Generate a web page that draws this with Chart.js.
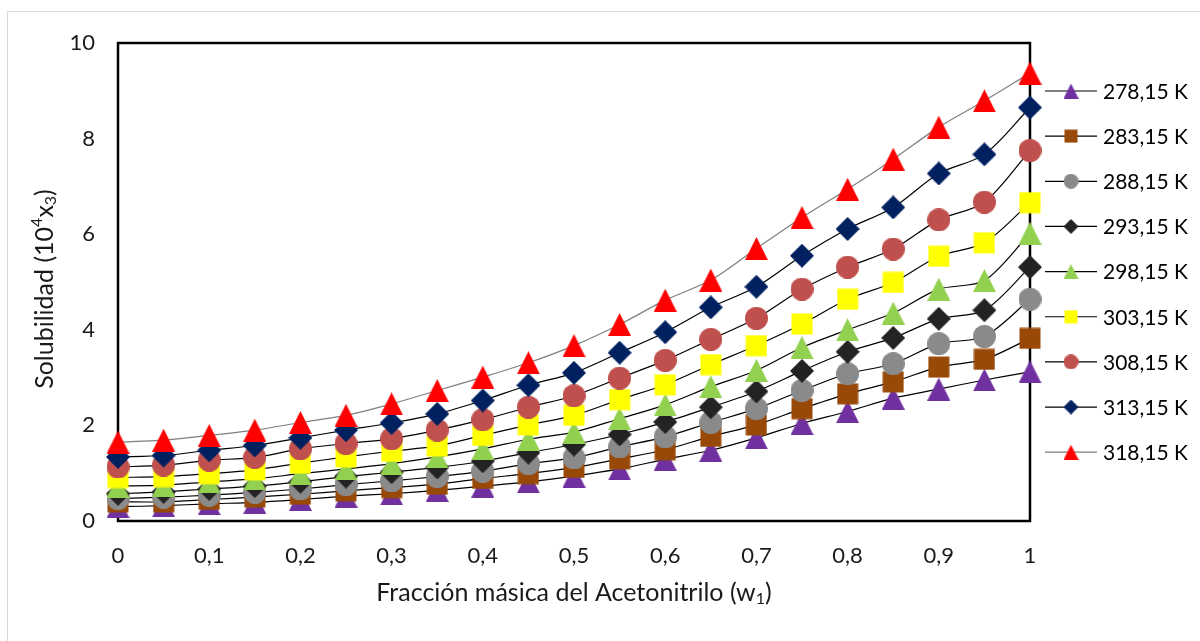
<!DOCTYPE html>
<html lang="es">
<head>
<meta charset="utf-8">
<title>Solubilidad vs fracción másica del acetonitrilo</title>
<script src="https://cdn.jsdelivr.net/npm/chart.js@4.4.1/dist/chart.umd.min.js"></script>
<style>
  html, body { margin: 0; padding: 0; background: #fff; overflow: hidden; }
  #wrap { position: relative; width: 1200px; height: 641px; }
  #frame { position: absolute; left: 7px; top: 11px; width: 1300px; height: 700px;
           border-top: 1px solid #dedad2; border-left: 1px solid #dedad2; }
  canvas { position: absolute; left: 0; top: 0; }
</style>
</head>
<body>
<div id="wrap">
  <div id="frame"></div>
  <canvas id="solChart" width="1200" height="641"></canvas>
</div>
<script>
const FONT = 'Lato, "Open Sans", sans-serif';

// mass fraction of acetonitrile (x axis)
const w1 = [0, 0.05, 0.1, 0.15, 0.2, 0.25, 0.3, 0.35, 0.4, 0.45, 0.5,
            0.55, 0.6, 0.65, 0.7, 0.75, 0.8, 0.85, 0.9, 0.95, 1];

const temperatures = ['278,15 K', '283,15 K', '288,15 K', '293,15 K', '298,15 K',
                      '303,15 K', '308,15 K', '313,15 K', '318,15 K'];

// solubility 10^4 x3 for each temperature
const sol_278 = [0.30, 0.32, 0.36, 0.39, 0.45, 0.52, 0.57, 0.64, 0.73, 0.82, 0.94,
                 1.09, 1.29, 1.48, 1.74, 2.04, 2.29, 2.57, 2.76, 2.95, 3.12];
const sol_283 = [0.40, 0.40, 0.45, 0.50, 0.56, 0.63, 0.70, 0.77, 0.89, 0.99, 1.12,
                 1.30, 1.49, 1.77, 2.01, 2.35, 2.66, 2.91, 3.22, 3.38, 3.82];
const sol_288 = [0.47, 0.50, 0.54, 0.60, 0.67, 0.76, 0.84, 0.93, 1.04, 1.20, 1.32,
                 1.55, 1.76, 2.06, 2.35, 2.73, 3.08, 3.29, 3.71, 3.86, 4.64];
const sol_293 = [0.57, 0.61, 0.67, 0.73, 0.82, 0.93, 1.02, 1.12, 1.25, 1.43, 1.60,
                 1.81, 2.07, 2.38, 2.71, 3.14, 3.54, 3.83, 4.23, 4.41, 5.31];
const sol_298 = [0.73, 0.75, 0.82, 0.88, 0.99, 1.09, 1.20, 1.34, 1.51, 1.71, 1.86,
                 2.14, 2.43, 2.81, 3.15, 3.63, 4.00, 4.35, 4.85, 5.03, 6.02];
const sol_303 = [0.91, 0.93, 0.99, 1.07, 1.21, 1.34, 1.46, 1.57, 1.79, 2.01, 2.21,
                 2.54, 2.85, 3.27, 3.67, 4.12, 4.64, 4.99, 5.54, 5.82, 6.66];
const sol_308 = [1.13, 1.17, 1.27, 1.33, 1.51, 1.62, 1.72, 1.90, 2.12, 2.38, 2.62,
                 2.99, 3.36, 3.80, 4.24, 4.85, 5.31, 5.69, 6.30, 6.67, 7.75];
const sol_313 = [1.34, 1.37, 1.48, 1.58, 1.74, 1.90, 2.05, 2.24, 2.52, 2.84, 3.10,
                 3.52, 3.95, 4.47, 4.90, 5.55, 6.11, 6.56, 7.27, 7.67, 8.65];
const sol_318 = [1.65, 1.69, 1.79, 1.90, 2.06, 2.21, 2.45, 2.73, 3.01, 3.31, 3.67,
                 4.11, 4.62, 5.04, 5.70, 6.35, 6.94, 7.57, 8.24, 8.79, 9.37];

const series = [sol_278, sol_283, sol_288, sol_293, sol_298, sol_303, sol_308, sol_313, sol_318];
const fill_colors = ['#7030a0', '#984807', '#8a8a8a', '#232323', '#92d050',
                     '#ffff00', '#c0504d', '#002060', '#ff0000'];
const line_colors = ['#000', '#000', '#000', '#000', '#000', '#000', '#000', '#000', '#7f7f7f'];
const shapes = ['triangle', 'square', 'circle', 'diamond', 'triangle',
                'square', 'circle', 'diamond', 'triangle'];

const y_ticks = [0, 2, 4, 6, 8, 10];

/**
 * builds a small canvas with one filled marker, used as pointStyle
 **/
function make_marker(shape, color, size) {
    const c = document.createElement('canvas');
    c.width = size;
    c.height = size;
    const g = c.getContext('2d');
    g.fillStyle = color;
    g.beginPath();
    if (shape === 'triangle') {
        g.moveTo(size / 2, 0);
        g.lineTo(size, size);
        g.lineTo(0, size);
    } else if (shape === 'square') {
        g.rect(0.5, 0.5, size - 1, size - 1);
    } else if (shape === 'circle') {
        g.arc(size / 2, size / 2, size / 2, 0, Math.PI * 2);
    } else {
        g.moveTo(size / 2, 0);
        g.lineTo(size, size / 2);
        g.lineTo(size / 2, size);
        g.lineTo(0, size / 2);
    }
    g.closePath();
    g.fill();
    return c;
}

const marker_size = { triangle: 23, square: 22, circle: 23, diamond: 24 };
const legend_size = { triangle: 15, square: 14, circle: 15, diamond: 15 };

/**
 * draws text with superscript / subscript pieces, centered on (0,0)
 **/
function draw_rich(ctx, parts, size) {
    const small = Math.round(size * 0.64);
    let total = 0;
    parts.forEach(p => {
        ctx.font = (p[1] ? small : size) + 'px ' + FONT;
        p.w = ctx.measureText(p[0]).width;
        total += p.w;
    });
    let x = -total / 2;
    parts.forEach(p => {
        ctx.font = (p[1] ? small : size) + 'px ' + FONT;
        const dy = p[1] === 'sup' ? -size * 0.32 : (p[1] === 'sub' ? size * 0.24 : 0);
        ctx.fillText(p[0], x, dy);
        x += p.w;
    });
}

// black box around the plot area, under the markers
const plotFrame = {
    id: 'plotFrame',
    beforeDatasetsDraw(chart) {
        const a = chart.chartArea;
        const ctx = chart.ctx;
        ctx.save();
        ctx.strokeStyle = '#000';
        ctx.lineWidth = 2.5;
        ctx.strokeRect(a.left, a.top, a.right - a.left, a.bottom - a.top);
        ctx.restore();
    }
};

// axis titles with super/subscripts
const axisTitles = {
    id: 'axisTitles',
    afterDraw(chart) {
        const a = chart.chartArea;
        const ctx = chart.ctx;
        ctx.save();
        ctx.fillStyle = '#1a1a1a';
        ctx.textBaseline = 'middle';
        ctx.textAlign = 'left';
        ctx.translate((a.left + a.right) / 2, 593);
        draw_rich(ctx, [['Fracción másica del Acetonitrilo (w', ''], ['1', 'sub'], [')', '']], 25);
        ctx.restore();

        ctx.save();
        ctx.fillStyle = '#1a1a1a';
        ctx.textBaseline = 'middle';
        ctx.textAlign = 'left';
        ctx.translate(45, 289);
        ctx.rotate(-Math.PI / 2);
        draw_rich(ctx, [['Solubilidad (10', ''], ['4', 'sup'], ['x', ''], ['3', 'sub'], [')', '']], 25);
        ctx.restore();
    }
};

// legend on the right: short line with the marker in the middle
const sideLegend = {
    id: 'sideLegend',
    afterDraw(chart) {
        const ctx = chart.ctx;
        ctx.save();
        ctx.font = '21px ' + FONT;
        ctx.textBaseline = 'middle';
        ctx.textAlign = 'left';
        chart.data.datasets.forEach((ds, i) => {
            const y = 91 + i * 45.15;
            ctx.strokeStyle = ds.borderColor;
            ctx.lineWidth = 1.2;
            ctx.beginPath();
            ctx.moveTo(1045, y);
            ctx.lineTo(1097, y);
            ctx.stroke();
            const m = ds.legendMarker;
            ctx.drawImage(m, 1071 - m.width / 2, y - m.height / 2);
            ctx.fillStyle = '#000';
            ctx.fillText(ds.label, 1103, y + 1);
        });
        ctx.restore();
    }
};

let datasetConfig = [];
for (let i = 0; i < series.length; i++) {
    datasetConfig.push({
        label: temperatures[i],
        data: w1.map((x, j) => ({ x: x, y: series[i][j] })),
        borderColor: line_colors[i],
        borderWidth: 1.2,
        tension: 0.3,
        pointStyle: make_marker(shapes[i], fill_colors[i], marker_size[shapes[i]]),
        legendMarker: make_marker(shapes[i], fill_colors[i], legend_size[shapes[i]]),
        pointRadius: 11,
        clip: false,
        order: series.length - 1 - i
    });
}

const format_tick = v => Number(v.toFixed(1)).toString().replace('.', ',');

const ctx = document.getElementById('solChart').getContext('2d');
const config = {
    type: 'line',
    data: { datasets: datasetConfig },
    options: {
        responsive: false,
        animation: false,
        layout: { padding: { top: 43, right: 170, left: 0, bottom: 0 } },
        plugins: {
            legend: { display: false },
            tooltip: { enabled: false }
        },
        scales: {
            x: {
                type: 'linear',
                min: 0,
                max: 1,
                grid: { display: false, drawTicks: false },
                border: { display: false },
                ticks: {
                    stepSize: 0.1,
                    padding: 22,
                    color: '#1a1a1a',
                    font: { family: FONT, size: 22 },
                    callback: format_tick
                },
                afterFit: s => { s.height = 120; }
            },
            y: {
                min: y_ticks[0],
                max: y_ticks[y_ticks.length - 1],
                grid: { display: false, drawTicks: false },
                border: { display: false },
                ticks: {
                    stepSize: 2,
                    padding: 23,
                    color: '#1a1a1a',
                    font: { family: FONT, size: 22 }
                },
                afterFit: s => { s.width = 118; }
            }
        }
    },
    plugins: [plotFrame, axisTitles, sideLegend]
};
const solChart = new Chart(ctx, config);
</script>
</body>
</html>
